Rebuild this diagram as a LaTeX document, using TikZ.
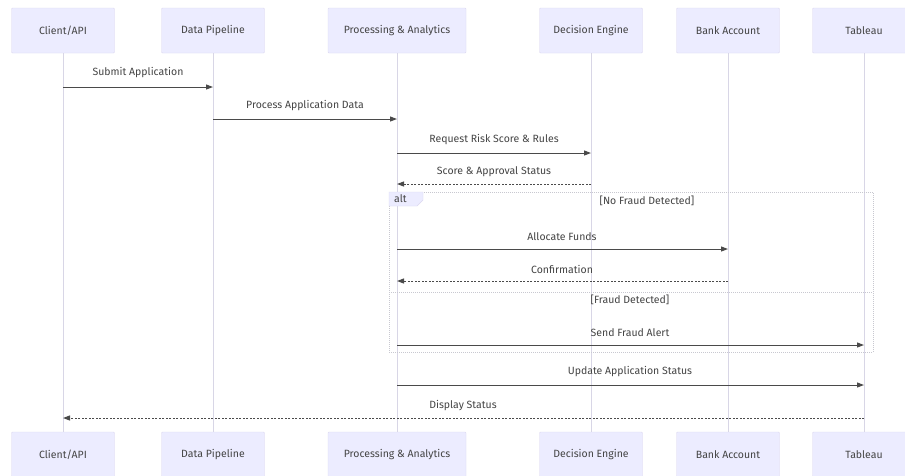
\documentclass[tikz,border=0pt]{standalone}
\usepackage{fontspec}
\setmainfont{Fira Sans}
\usetikzlibrary{arrows.meta}
\definecolor{actfill}{HTML}{ECECFF}
\definecolor{actdraw}{HTML}{DCD8F0}
\definecolor{lifec}{HTML}{D8D6E6}
\definecolor{txt}{HTML}{444444}
\definecolor{arr}{HTML}{4A4A4A}
\definecolor{altc}{HTML}{C8C8D0}
\tikzset{
  x=1pt, y=-1pt,
  actor/.style={draw=actdraw, fill=actfill, minimum width=103pt, minimum height=45pt, inner sep=0pt, text=txt, font=\fontsize{10.5}{12}\selectfont, rounded corners=1pt},
  life/.style={draw=lifec, line width=0.9pt},
  msg/.style={draw=arr, line width=1pt, -{Triangle[length=7pt,width=5pt]}},
  reply/.style={msg, dash pattern=on 2pt off 1.5pt},
  lbl/.style={text=txt, font=\fontsize{10.5}{12}\selectfont, inner sep=0pt},
  altbox/.style={draw=altc, line width=0.8pt, dash pattern=on 1pt off 1pt},
}
\begin{document}
\begin{tikzpicture}
\useasboundingbox (0,0) rectangle (905,475);
\clip (0,0) rectangle (905,475);
\fill[white] (0,0) rectangle (905,475);
% participants top
\node[actor] (cT) at (63,30.5) {Client/API};
\node[actor] (dT) at (213,30.5) {Data Pipeline};
\node[actor, minimum width=138pt] (pT) at (397,30.5) {Processing \& Analytics};
\node[actor] (eT) at (591,30.5) {Decision Engine};
\node[actor] (bT) at (728,30.5) {Bank Account};
\node[actor] (tT) at (864,30.5) {Tableau};
% participants bottom
\node[actor] (cB) at (63,454.5) {Client/API};
\node[actor] (dB) at (213,454.5) {Data Pipeline};
\node[actor, minimum width=138pt] (pB) at (397,454.5) {Processing \& Analytics};
\node[actor] (eB) at (591,454.5) {Decision Engine};
\node[actor] (bB) at (728,454.5) {Bank Account};
\node[actor] (tB) at (864,454.5) {Tableau};
% lifelines
\foreach \a in {c,d,p,e,b,t} \draw[life] (\a T.south) -- (\a B.north);
% alt frame
\draw[altbox] (389,192) rectangle (873,352);
\draw[altbox] (389,292) -- (873,292);
\draw[draw=actdraw, fill=actfill] (389,192) -- (423,192) -- (423,200) -- (417,206) -- (389,206) -- cycle;
\node[lbl, anchor=west] (altl) at (394,199) {alt};
\node[lbl] (c1) at (647,201) {[No Fraud Detected]};
\node[lbl] (c2) at (630,300) {[Fraud Detected]};
% messages
\draw[msg] (cT |- 0,87) -- (dT |- 0,87);
\node[lbl] (l1) at (138,73) {Submit Application};
\draw[msg] (dT |- 0,119) -- (pT |- 0,119);
\node[lbl] (l2) at (305,106) {Process Application Data};
\draw[msg] (pT |- 0,153) -- (eT |- 0,153);
\node[lbl] (l3) at (494,140) {Request Risk Score \& Rules};
\draw[reply] (eT |- 0,184) -- (pT |- 0,184);
\node[lbl] (l4) at (494,172) {Score \& Approval Status};
\draw[msg] (pT |- 0,249) -- (bT |- 0,249);
\node[lbl] (l5) at (562,237) {Allocate Funds};
\draw[reply] (bT |- 0,281) -- (pT |- 0,281);
\node[lbl] (l6) at (562,269) {Confirmation};
\draw[msg] (pT |- 0,345) -- (tT |- 0,345);
\node[lbl] (l7) at (630,333) {Send Fraud Alert};
\draw[msg] (pT |- 0,385) -- (tT |- 0,385);
\node[lbl] (l8) at (630,372) {Update Application Status};
\draw[reply] (tT |- 0,418) -- (cT |- 0,418);
\node[lbl] (l9) at (463,406) {Display Status};
\end{tikzpicture}
\end{document}
